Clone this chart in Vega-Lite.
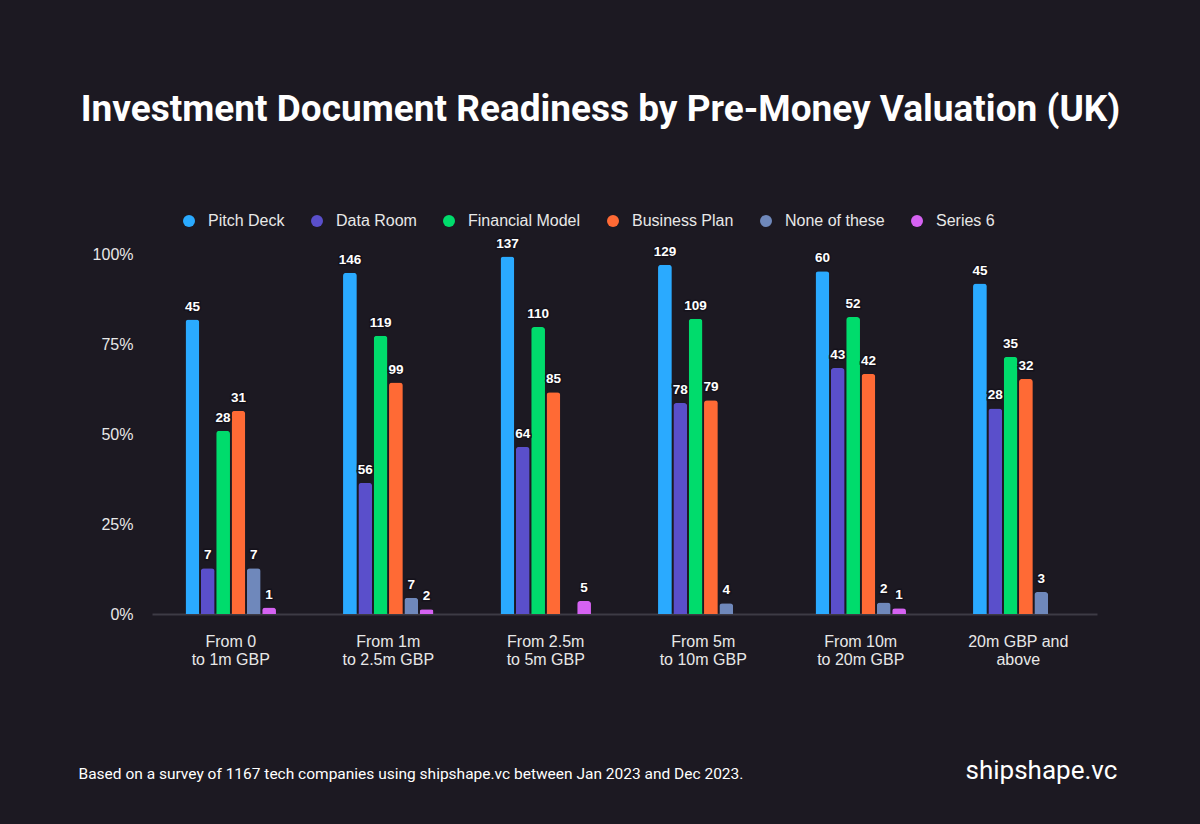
{
  "$schema": "https://vega.github.io/schema/vega-lite/v6.json",
  "width": 945,
  "height": 360,
  "autosize": {"type": "none"},
  "padding": {"left": 152, "top": 254, "right": 103, "bottom": 210},
  "background": "#1c1922",
  "title": {
    "text": "Investment Document Readiness by Pre-Money Valuation (UK)",
    "font": "Roboto",
    "fontSize": 37,
    "fontWeight": "bold",
    "color": "#ffffff",
    "anchor": "middle",
    "dx": -24,
    "offset": 84
  },
  "data": {
    "values": [
      {"range": "From 0|to 1m GBP", "doc": "Pitch Deck", "pct": 0.818, "n": 45},
      {"range": "From 0|to 1m GBP", "doc": "Data Room", "pct": 0.127, "n": 7},
      {"range": "From 0|to 1m GBP", "doc": "Financial Model", "pct": 0.509, "n": 28},
      {"range": "From 0|to 1m GBP", "doc": "Business Plan", "pct": 0.564, "n": 31},
      {"range": "From 0|to 1m GBP", "doc": "None of these", "pct": 0.127, "n": 7},
      {"range": "From 0|to 1m GBP", "doc": "Series 6", "pct": 0.018, "n": 1},
      {"range": "From 1m|to 2.5m GBP", "doc": "Pitch Deck", "pct": 0.948, "n": 146},
      {"range": "From 1m|to 2.5m GBP", "doc": "Data Room", "pct": 0.364, "n": 56},
      {"range": "From 1m|to 2.5m GBP", "doc": "Financial Model", "pct": 0.773, "n": 119},
      {"range": "From 1m|to 2.5m GBP", "doc": "Business Plan", "pct": 0.643, "n": 99},
      {"range": "From 1m|to 2.5m GBP", "doc": "None of these", "pct": 0.045, "n": 7},
      {"range": "From 1m|to 2.5m GBP", "doc": "Series 6", "pct": 0.013, "n": 2},
      {"range": "From 2.5m|to 5m GBP", "doc": "Pitch Deck", "pct": 0.993, "n": 137},
      {"range": "From 2.5m|to 5m GBP", "doc": "Data Room", "pct": 0.464, "n": 64},
      {"range": "From 2.5m|to 5m GBP", "doc": "Financial Model", "pct": 0.797, "n": 110},
      {"range": "From 2.5m|to 5m GBP", "doc": "Business Plan", "pct": 0.616, "n": 85},
      {"range": "From 2.5m|to 5m GBP", "doc": "Series 6", "pct": 0.036, "n": 5},
      {"range": "From 5m|to 10m GBP", "doc": "Pitch Deck", "pct": 0.970, "n": 129},
      {"range": "From 5m|to 10m GBP", "doc": "Data Room", "pct": 0.586, "n": 78},
      {"range": "From 5m|to 10m GBP", "doc": "Financial Model", "pct": 0.820, "n": 109},
      {"range": "From 5m|to 10m GBP", "doc": "Business Plan", "pct": 0.594, "n": 79},
      {"range": "From 5m|to 10m GBP", "doc": "None of these", "pct": 0.030, "n": 4},
      {"range": "From 10m|to 20m GBP", "doc": "Pitch Deck", "pct": 0.952, "n": 60},
      {"range": "From 10m|to 20m GBP", "doc": "Data Room", "pct": 0.683, "n": 43},
      {"range": "From 10m|to 20m GBP", "doc": "Financial Model", "pct": 0.825, "n": 52},
      {"range": "From 10m|to 20m GBP", "doc": "Business Plan", "pct": 0.667, "n": 42},
      {"range": "From 10m|to 20m GBP", "doc": "None of these", "pct": 0.032, "n": 2},
      {"range": "From 10m|to 20m GBP", "doc": "Series 6", "pct": 0.016, "n": 1},
      {"range": "20m GBP and|above", "doc": "Pitch Deck", "pct": 0.918, "n": 45},
      {"range": "20m GBP and|above", "doc": "Data Room", "pct": 0.571, "n": 28},
      {"range": "20m GBP and|above", "doc": "Financial Model", "pct": 0.714, "n": 35},
      {"range": "20m GBP and|above", "doc": "Business Plan", "pct": 0.653, "n": 32},
      {"range": "20m GBP and|above", "doc": "None of these", "pct": 0.061, "n": 3}
    ]
  },
  "encoding": {
    "x": {
      "field": "range",
      "type": "nominal",
      "sort": null,
      "scale": {"paddingInner": 0.416, "paddingOuter": 0.208},
      "axis": {
        "title": "Based on a survey of 1167 tech companies using shipshape.vc between Jan 2023 and Dec 2023.",
        "titleFont": "Roboto",
        "titleFontSize": 15.5,
        "titleFontWeight": "normal",
        "titleColor": "#ffffff",
        "titleAnchor": "start",
        "titleAlign": "left",
        "titleBaseline": "middle",
        "titleX": -74,
        "titleY": 159,
        "labelExpr": "split(datum.label, '|')",
        "labelAngle": 0,
        "labelFont": "Liberation Sans",
        "labelFontSize": 16,
        "labelColor": "#e8e8e8",
        "labelLineHeight": 18.5,
        "labelPadding": 19,
        "labelBaseline": "top",
        "ticks": false,
        "domain": true,
        "domainColor": "#3d3b45",
        "domainWidth": 2
      }
    },
    "xOffset": {
      "field": "doc",
      "type": "nominal",
      "scale": {
        "domain": ["Pitch Deck", "Data Room", "Financial Model", "Business Plan", "None of these", "Series 6"],
        "paddingInner": 0.1,
        "paddingOuter": 0.05
      }
    },
    "y": {
      "field": "pct",
      "type": "quantitative",
      "scale": {"domain": [0, 1], "nice": false},
      "axis": {
        "values": [0, 0.25, 0.5, 0.75, 1],
        "format": ".0%",
        "grid": false,
        "domain": false,
        "ticks": false,
        "labelFont": "Liberation Sans",
        "labelFontSize": 16,
        "labelColor": "#e8e8e8",
        "labelPadding": 19,
        "title": "shipshape.vc",
        "titleFont": "Roboto",
        "titleFontSize": 26,
        "titleFontWeight": "normal",
        "titleColor": "#ffffff",
        "titleAngle": 0,
        "titleAlign": "left",
        "titleBaseline": "middle",
        "titleX": 813,
        "titleY": 516
      }
    }
  },
  "layer": [
    {
      "mark": {"type": "bar", "cornerRadiusTopLeft": 3, "cornerRadiusTopRight": 3},
      "encoding": {
        "color": {
          "field": "doc",
          "type": "nominal",
          "scale": {
            "domain": ["Pitch Deck", "Data Room", "Financial Model", "Business Plan", "None of these", "Series 6"],
            "range": ["#2aaaff", "#5a4fcb", "#00dc6c", "#ff6a35", "#6f88bb", "#d562f2"]
          },
          "legend": {
            "orient": "none",
            "legendX": 29,
            "legendY": -41,
            "direction": "horizontal",
            "title": null,
            "symbolType": "circle",
            "symbolSize": 144,
            "symbolStrokeWidth": 0,
            "labelFont": "Liberation Sans",
            "labelFontSize": 16,
            "labelColor": "#e8e8e8",
            "labelOffset": 11,
            "columnPadding": 24
          }
        }
      }
    },
    {
      "mark": {"type": "text", "font": "Liberation Sans", "fontSize": 13.5, "fontWeight": "bold", "baseline": "middle", "dy": -13, "stroke": "#15121b", "strokeWidth": 3, "fill": "#15121b"},
      "encoding": {"text": {"field": "n", "type": "quantitative"}}
    },
    {
      "mark": {"type": "text", "font": "Liberation Sans", "fontSize": 13.5, "fontWeight": "bold", "baseline": "middle", "dy": -13, "color": "#ffffff"},
      "encoding": {"text": {"field": "n", "type": "quantitative"}}
    }
  ],
  "config": {
    "view": {"stroke": null}
  }
}
